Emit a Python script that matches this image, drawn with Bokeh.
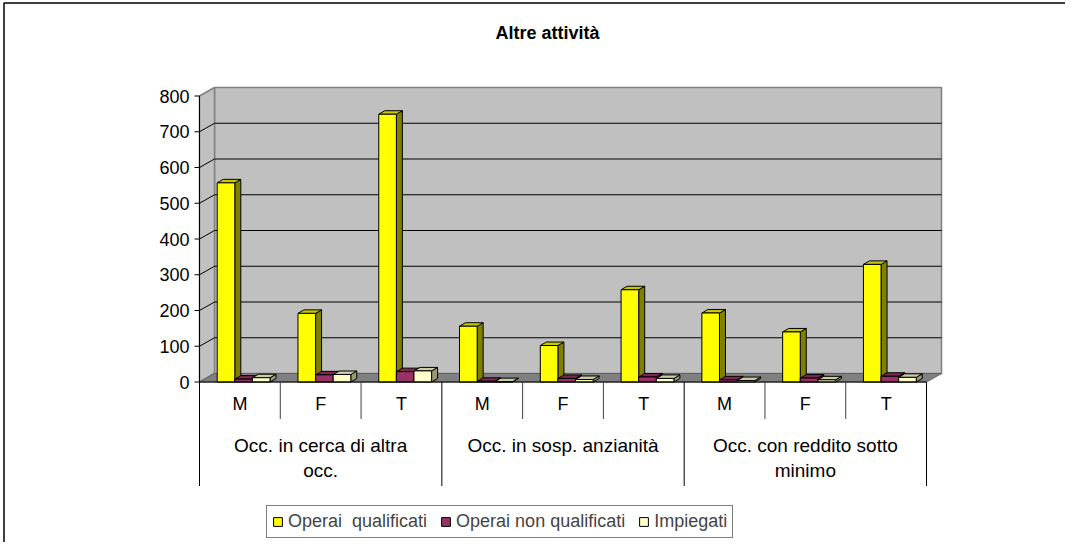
from bokeh.plotting import figure
from bokeh.models import Legend, LegendItem, Range1d
from bokeh.core.properties import value
from bokeh.embed import file_html
from bokeh.resources import INLINE

# ---------------- data ----------------
chart_title = "Altre attività"
groups = ["Occ. in cerca di altra\nocc.", "Occ. in sosp. anzianità", "Occ. con reddito sotto\nminimo"]
subs = ["M", "F", "T"]
series_names = ["Operai  qualificati", "Operai non qualificati", "Impiegati"]
operai_qualificati = [557, 192, 749, 156, 102, 258, 193, 140, 329]
operai_non_qualificati = [8, 20, 29, 2, 10, 14, 6, 11, 16]
impiegati = [12, 21, 31, 1, 7, 10, 4, 6, 13]
y_ticks = [0, 100, 200, 300, 400, 500, 600, 700, 800]

# ---------------- styles / layout ----------------
FONT_NAME = "Liberation Sans"
FONT = value(FONT_NAME)
W, H = 1065, 542
OX, OY = 199.0, 381.5          # origin (value 0, first category edge) in frame pixels
UNIT_PX = 80.78                # pixels per sub-category
VAL_PX = 0.3575                # pixels per value unit
YMAX = y_ticks[-1]

def dx(px):
    return px / UNIT_PX

def dy(px):
    return px / VAL_PX

x_start = -OX / UNIT_PX
x_end = (W - OX) / UNIT_PX
y_end = OY / VAL_PX
y_start = -(H - OY) / VAL_PX

p = figure(width=W, height=H, x_range=Range1d(x_start, x_end), y_range=Range1d(y_start, y_end),
           output_backend="svg", toolbar_location=None, x_axis_location=None, y_axis_location=None,
           min_border=0)
p.grid.visible = False
p.outline_line_color = None
p.background_fill_color = "white"
p.border_fill_color = "white"

n = len(groups) * len(subs)
WX, WY = dx(15), dy(8.5)       # wall depth
BDX, BDY = dx(6), dy(3.5)      # bar depth
WALL = "#C0C0C0"
EDGE = "#808080"

# outer chart border (left + top)
p.line(x=[x_start + dx(3.5), x_start + dx(3.5), x_end], y=[y_start, y_end - dy(2.5), y_end - dy(2.5)],
       line_color="black", line_width=1.5)

# walls and floor
p.patch(x=[WX, n + WX, n + WX, WX], y=[WY, WY, YMAX + WY, YMAX + WY],
        fill_color=WALL, line_color=EDGE, line_width=1.5)
p.patch(x=[0, WX, WX, 0], y=[0, WY, YMAX + WY, YMAX], fill_color=WALL, line_color=EDGE, line_width=1.5)
p.patch(x=[0, n, n + WX, WX], y=[0, 0, WY, WY], fill_color="#808080", line_color="#606060", line_width=1)

# gridlines on back wall and left wall
grid_vals = [v for v in y_ticks if 0 < v < YMAX]
p.multi_line(xs=[[WX, n + WX] for v in grid_vals], ys=[[v + WY, v + WY] for v in grid_vals],
             line_color="black", line_width=1)
p.multi_line(xs=[[0, WX] for v in grid_vals], ys=[[v, v + WY] for v in grid_vals],
             line_color="black", line_width=1)

# bars (3D)
series = [operai_qualificati, operai_non_qualificati, impiegati]
fronts = ["#FFFF00", "#993366", "#FFFFCC"]
tops = ["#C8C800", "#7A2952", "#CCCCA3"]
sides = ["#808000", "#4D1A33", "#99997A"]
BAR_W = 0.218
FIRST = 0.219
renderers = []
for s, vals in enumerate(series):
    x0s = [k + FIRST + s * BAR_W for k in range(n)]
    x1s = [x0 + BAR_W for x0 in x0s]
    side_xs = [[x1, x1, x1 + BDX, x1 + BDX] for x1 in x1s]
    side_ys = [[0, v, v + BDY, BDY] for v in vals]
    top_xs = [[x0, x1, x1 + BDX, x0 + BDX] for x0, x1 in zip(x0s, x1s)]
    top_ys = [[v, v, v + BDY, v + BDY] for v in vals]
    p.patches(xs=side_xs, ys=side_ys, fill_color=sides[s], line_color="black", line_width=1)
    p.patches(xs=top_xs, ys=top_ys, fill_color=tops[s], line_color="black", line_width=1)
    r = p.vbar(x=[(a + b) / 2 for a, b in zip(x0s, x1s)], width=BAR_W, top=vals, bottom=0,
               fill_color=fronts[s], line_color="black", line_width=1)
    renderers.append(r)

# value axis (front)
p.segment(x0=[0], y0=[YMAX], x1=[0], y1=[0], line_color="black", line_width=1)
p.segment(x0=[-dx(5)] * len(y_ticks), y0=y_ticks, x1=[0] * len(y_ticks), y1=y_ticks,
          line_color="black", line_width=1)
p.text(x=[-dx(10)] * len(y_ticks), y=y_ticks, text=[str(v) for v in y_ticks],
       text_font=FONT, text_font_size="18px", text_align="right", text_baseline="middle",
       text_color="black")

# category axis
p.segment(x0=[0], y0=[0], x1=[n], y1=[0], line_color="black", line_width=1)
inner = [k for k in range(n + 1) if k % len(subs) != 0]
outer = [k for k in range(n + 1) if k % len(subs) == 0]
p.segment(x0=inner, y0=[0] * len(inner), x1=inner, y1=[-dy(37)] * len(inner),
          line_color="#404040", line_width=1)
p.segment(x0=outer, y0=[0] * len(outer), x1=outer, y1=[-dy(104)] * len(outer),
          line_color="black", line_width=1)
p.text(x=[k + 0.5 for k in range(n)], y=[-dy(22)] * n, text=[subs[k % len(subs)] for k in range(n)],
       text_font=FONT, text_font_size="18px", text_align="center", text_baseline="middle",
       text_color="black")
gx, gy, gt = [], [], []
for g, label in enumerate(groups):
    for li, line in enumerate(label.split("\n")):
        gx.append(g * len(subs) + len(subs) / 2)
        gy.append(-dy(63.5 + 25 * li))
        gt.append(line)
p.text(x=gx, y=gy, text=gt, text_font=FONT, text_font_size="19px", text_align="center",
       text_baseline="middle", text_color="black")

# title
p.text(x=[dx(547 - OX)], y=[dy(OY - 32)], text=[chart_title], text_font=FONT,
       text_font_size="18px", text_font_style="bold", text_align="center", text_baseline="middle",
       text_color="black")

# legend
legend = Legend(items=[LegendItem(label=nm, renderers=[r]) for nm, r in zip(series_names, renderers)],
                orientation="horizontal", location=(266, 4), border_line_color="black",
                border_line_width=1, background_fill_color="white", background_fill_alpha=1,
                padding=5, spacing=13, glyph_width=11, glyph_height=11, label_standoff=5,
                label_text_font=FONT_NAME, label_text_font_size="18px", label_height=20, margin=0)
p.add_layout(legend)

open("out.html", "w").write(file_html(p, INLINE))
